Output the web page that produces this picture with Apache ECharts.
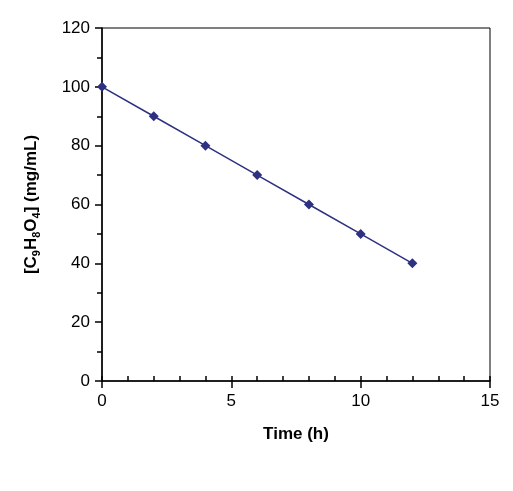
<!DOCTYPE html><html><head><meta charset="utf-8"><script src="https://cdn.jsdelivr.net/npm/echarts@6/dist/echarts.min.js"></script></head><body style="margin:0"><div id="c" style="width:513px;height:491px"></div><script>
const times=[0,2,4,6,8,10,12];
const conc=[100,90,80,70,60,50,40];
const c=echarts.init(document.getElementById('c'));
const ax={lineStyle:{color:'#000',width:1.5}};
const lab={color:'#000',fontSize:17,fontFamily:'Liberation Sans'};
c.setOption({animation:false,
grid:{left:102,right:23,top:28,bottom:110,show:true,borderColor:'#000',borderWidth:1,backgroundColor:'#fff'},
xAxis:[{type:'value',min:0,max:15,interval:5,axisLine:ax,axisTick:{length:7,lineStyle:{color:'#000',width:1.5}},splitLine:{show:false},axisLabel:Object.assign({margin:12},lab),
name:'Time (h)',nameLocation:'middle',nameGap:45,nameTextStyle:{color:'#000',fontSize:17,fontWeight:'bold',fontFamily:'Liberation Sans'}},
{type:'value',min:0,max:15,interval:1,position:'bottom',axisLine:{show:false},axisTick:{inside:true,length:5,lineStyle:{color:'#000',width:1.5}},axisLabel:{show:false},splitLine:{show:false}}],
yAxis:[{type:'value',min:0,max:120,interval:20,axisLine:ax,axisTick:{length:7,lineStyle:{color:'#000',width:1.5}},splitLine:{show:false},axisLabel:Object.assign({margin:12},lab),
name:'{b|[C}{s|9}{b|H}{s|8}{b|O}{s|4}{b|] (mg/mL)}',nameLocation:'middle',nameGap:60,nameRotate:90,
nameTextStyle:{rich:{b:{fontSize:17,fontWeight:'bold',color:'#000',fontFamily:'Liberation Sans'},s:{fontSize:11,fontWeight:'bold',color:'#000',fontFamily:'Liberation Sans',padding:[10,0,0,0]}}}},
{type:'value',min:0,max:120,interval:10,position:'left',axisLine:{show:false},axisTick:{inside:false,length:5,lineStyle:{color:'#000',width:1.5}},axisLabel:{show:false},splitLine:{show:false}}],
series:[{type:'line',data:times.map((t,i)=>[t,conc[i]]),symbol:'diamond',symbolSize:10,itemStyle:{color:'#2E3182'},lineStyle:{color:'#2E3182',width:1.5}}]});
</script></body></html>
